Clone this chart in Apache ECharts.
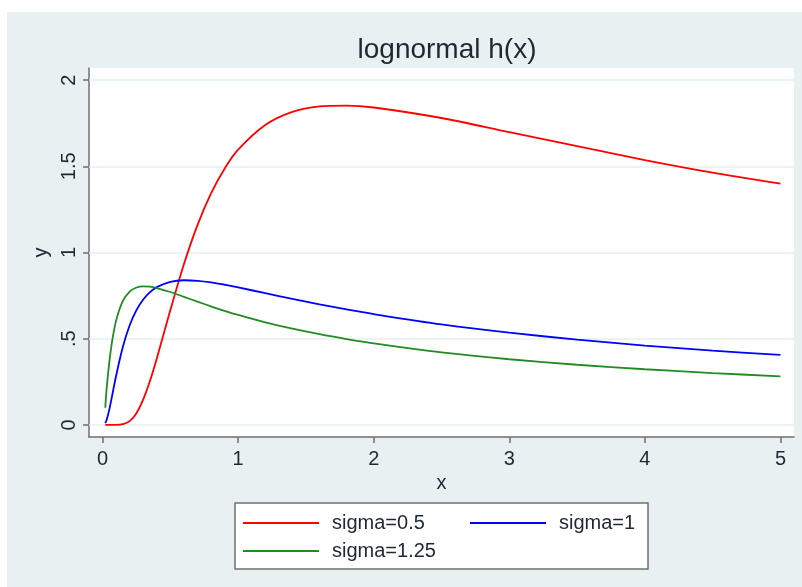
<!DOCTYPE html>
<html>
<head>
<meta charset="utf-8">
<script src="https://cdn.jsdelivr.net/npm/echarts@6/dist/echarts.min.js"></script>
<style>
  html, body { margin: 0; padding: 0; background: #fff; }
  #main { width: 802px; height: 587px; }
</style>
</head>
<body>
<div id="main"></div>
<script>
// values
const xs = [0.02, 0.03, 0.05, 0.07, 0.1, 0.15, 0.2, 0.25, 0.3, 0.35, 0.4, 0.5, 0.6, 0.7, 0.8, 0.9,
  1.0, 1.2, 1.4, 1.6, 1.8, 2.0, 2.5, 3.0, 3.5, 4.0, 4.5, 5.0];
const sigma05 = [0, 0, 0, 0, 0, 0.004, 0.022, 0.068, 0.148, 0.256, 0.385, 0.666, 0.932, 1.159, 1.343, 1.486,
  1.596, 1.739, 1.815, 1.847, 1.852, 1.841, 1.780, 1.698, 1.617, 1.536, 1.463, 1.399];
const sigma1 = [0.010, 0.028, 0.090, 0.167, 0.285, 0.453, 0.578, 0.666, 0.727, 0.770, 0.799, 0.830, 0.839, 0.836, 0.827, 0.813,
  0.798, 0.764, 0.731, 0.699, 0.670, 0.643, 0.583, 0.535, 0.495, 0.460, 0.431, 0.406];
const sigma125 = [0.100, 0.209, 0.364, 0.483, 0.605, 0.719, 0.773, 0.797, 0.804, 0.802, 0.794, 0.771, 0.743, 0.715, 0.688, 0.662,
  0.638, 0.595, 0.558, 0.526, 0.498, 0.473, 0.421, 0.381, 0.349, 0.323, 0.301, 0.282];
const seriesNames = ['sigma=0.5', 'sigma=1', 'sigma=1.25'];
const xTicks = [0, 1, 2, 3, 4, 5];
const yTicks = [0, 0.5, 1, 1.5, 2];

const font = 'Liberation Sans, Arial, sans-serif';
const textColor = '#1e2733';
const axisColor = '#6f6f6f';

const pairs = ys => xs.map((x, i) => [x, ys[i]]);

const chart = echarts.init(document.getElementById('main'));

const line = (name, ys, color) => ({
  name: name,
  type: 'line',
  data: pairs(ys),
  smooth: 0.3,
  showSymbol: false,
  z: 3,
  lineStyle: { color: color, width: 1.8 },
  itemStyle: { color: color }
});

const option = {
  animation: false,
  backgroundColor: '#fff',
  graphic: {
    elements: [{
      type: 'rect',
      z: -100,
      shape: { x: 7, y: 12, width: 795, height: 575 },
      style: { fill: '#e9f0f2' }
    }]
  },
  title: {
    text: 'lognormal h(x)',
    left: 442,
    textAlign: 'center',
    top: 31,
    textStyle: { fontFamily: font, fontSize: 28, fontWeight: 'normal', color: textColor }
  },
  grid: {
    left: 89, right: 8, top: 68, bottom: 150,
    show: true, backgroundColor: '#fff', borderWidth: 0
  },
  legend: {
    left: 235,
    top: 503,
    width: 410,
    orient: 'horizontal',
    icon: 'rect',
    itemWidth: 76,
    itemHeight: 2,
    itemGap: 8,
    padding: [10, 9, 8, 8],
    backgroundColor: '#fff',
    borderColor: axisColor,
    borderWidth: 1.5,
    borderRadius: 0,
    textStyle: { fontFamily: font, fontSize: 20, color: textColor, lineHeight: 20, width: 130, padding: [0, 0, 0, 8] },
    data: [
      { name: seriesNames[0] },
      { name: seriesNames[1], textStyle: { width: 80 } },
      { name: seriesNames[2] }
    ]
  },
  xAxis: {
    type: 'value',
    min: -0.1,
    max: 5.1,
    name: 'x',
    nameLocation: 'middle',
    nameGap: 36,
    nameTextStyle: { fontFamily: font, fontSize: 20, color: textColor },
    axisLine: { show: true, onZero: false, lineStyle: { color: axisColor, width: 1.5 } },
    axisTick: { show: true, customValues: xTicks, length: 6, lineStyle: { color: axisColor, width: 1.5 } },
    axisLabel: { customValues: xTicks, margin: 12, fontFamily: font, fontSize: 20, color: textColor },
    splitLine: { show: false }
  },
  yAxis: {
    type: 'value',
    min: -0.07,
    max: 2.07,
    name: 'y',
    nameLocation: 'middle',
    nameGap: 36,
    nameTextStyle: { fontFamily: font, fontSize: 20, color: textColor },
    axisLine: { show: true, onZero: false, lineStyle: { color: axisColor, width: 1.5 } },
    axisTick: { show: true, customValues: yTicks, length: 6, lineStyle: { color: axisColor, width: 1.5 } },
    axisLabel: {
      customValues: yTicks,
      rotate: 90,
      margin: 10,
      fontFamily: font, fontSize: 20, color: textColor,
      formatter: v => (v === 0 ? '0' : String(v).replace(/^0\./, '.'))
    },
    splitLine: { show: false }
  },
  series: [
    {
      name: 'gridlines',
      type: 'line',
      data: [],
      z: 1,
      silent: true,
      markLine: {
        z: 1,
        silent: true,
        symbol: 'none',
        label: { show: false },
        lineStyle: { color: '#e6eff1', width: 1.5, type: 'solid' },
        data: yTicks.map(v => ({ yAxis: v }))
      }
    },
    line(seriesNames[0], sigma05, '#ff0000'),
    line(seriesNames[1], sigma1, '#0000ff'),
    line(seriesNames[2], sigma125, '#228b22')
  ]
};

chart.setOption(option);
</script>
</body>
</html>
